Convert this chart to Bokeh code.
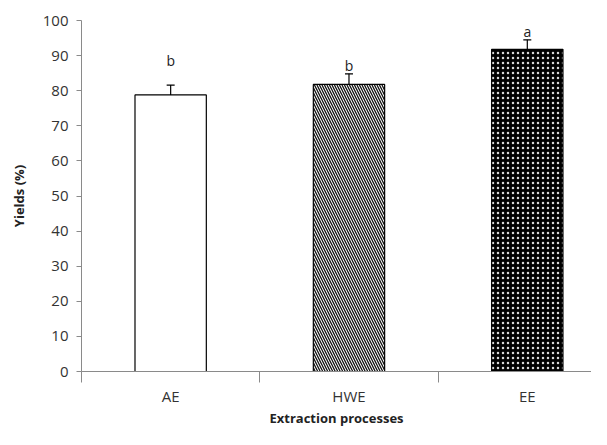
from bokeh.plotting import figure
from bokeh.models import ColumnDataSource, Range1d, FixedTicker, Whisker, TeeHead, LinearAxis
from bokeh.embed import file_html
from bokeh.resources import INLINE
from bokeh.core.properties import value

categories = ["AE", "HWE", "EE"]
yields = [78.8, 81.8, 91.8]
errors = [2.8, 3.0, 2.7]
letters = ["b", "b", "a"]
letter_y = [88.6, 87.2, 97.0]
y_ticks = [0, 10, 20, 30, 40, 50, 60, 70, 80, 90, 100]

xs = [i + 0.5 for i in range(len(categories))]
src = ColumnDataSource(dict(
    x=xs, top=yields,
    lower=[v - e for v, e in zip(yields, errors)],
    upper=[v + e for v, e in zip(yields, errors)],
    letter=letters, ly=letter_y,
))

p = figure(width=591, height=429, output_backend="svg", toolbar_location=None,
           x_range=Range1d(0, 2.86), y_range=Range1d(0, 100),
           min_border_left=81, min_border_right=0, min_border_top=20, min_border_bottom=57,
           x_axis_location=None, y_axis_location=None)
p.outline_line_color = None
p.xgrid.visible = False
p.ygrid.visible = False

FONT = "Open Sans"
axis_col = "#8a8a8a"
lab_col = "#333333"

yax = LinearAxis(ticker=FixedTicker(ticks=y_ticks))
yax.axis_line_color = axis_col
yax.major_tick_line_color = axis_col
yax.major_tick_in = 0
yax.major_tick_out = 5
yax.minor_tick_line_color = None
yax.major_label_text_font = FONT
yax.major_label_text_font_size = "15px"
yax.major_label_text_color = lab_col
yax.major_label_standoff = 8
yax.axis_label = "Yields (%)"
yax.axis_label_text_font = FONT
yax.axis_label_text_font_style = "bold"
yax.axis_label_text_font_size = "13px"
yax.axis_label_text_color = "#222222"
yax.axis_label_standoff = 12
p.add_layout(yax, "left")

xt = FixedTicker(ticks=xs, minor_ticks=list(range(len(categories) + 1)))
xax = LinearAxis(ticker=xt)
xax.axis_line_color = axis_col
xax.major_tick_line_color = None
xax.major_tick_in = 0
xax.major_tick_out = 0
xax.minor_tick_line_color = axis_col
xax.minor_tick_in = 0
xax.minor_tick_out = 11
xax.major_label_overrides = {x: c for x, c in zip(xs, categories)}
xax.major_label_text_font = FONT
xax.major_label_text_font_size = "15px"
xax.major_label_text_color = lab_col
xax.major_label_standoff = 3
xax.axis_label = "Extraction processes"
xax.axis_label_text_font = FONT
xax.axis_label_text_font_style = "bold"
xax.axis_label_text_font_size = "13px"
xax.axis_label_text_color = "#222222"
xax.axis_label_standoff = 0
p.add_layout(xax, "below")

w = 0.4
p.vbar(x=[xs[0]], top=[yields[0]], width=w, fill_color="white", line_color="black", line_width=1.2)
p.vbar(x=[xs[1]], top=[yields[1]], width=w, fill_color="white", line_color="black", line_width=1.2,
       hatch_pattern="\\", hatch_color="#111111", hatch_scale=5, hatch_weight=1.3)
p.vbar(x=[xs[2]], top=[yields[2]], width=w, fill_color="black", line_color="black", line_width=1.2,
       hatch_pattern=".", hatch_color="white", hatch_scale=5, hatch_alpha=0.85)

wh = Whisker(source=src, base="x", lower="lower", upper="upper", line_color="black", line_width=1.2,
             upper_head=TeeHead(size=8, line_color="black", line_width=1.2),
             lower_head=TeeHead(size=8, line_color="black", line_width=1.2))
p.add_layout(wh)

p.text(x="x", y="ly", text="letter", source=src, text_align="center", text_baseline="middle",
       text_font=value(FONT), text_font_size="14px", text_color="#222222")

open("out.html", "w").write(file_html(p, INLINE))
